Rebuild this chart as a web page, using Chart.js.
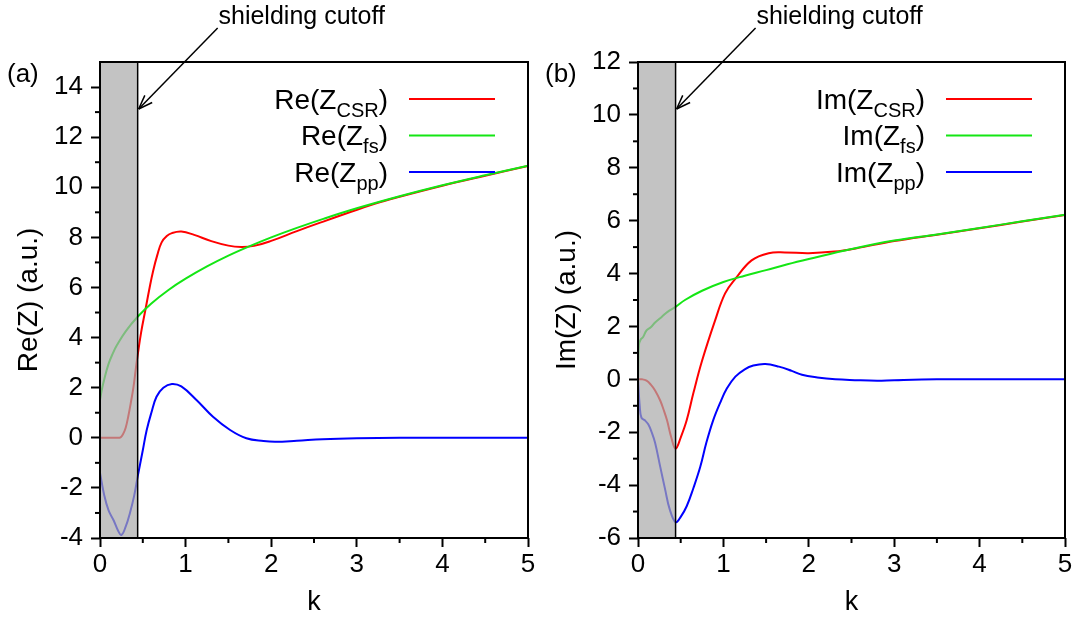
<!DOCTYPE html>
<html>
<head>
<script src="https://cdn.jsdelivr.net/npm/chart.js@4.4.0/dist/chart.umd.min.js"></script>
<title>Impedance panels</title>
<style>
  body { margin: 0; background: #fff; }
  .panel { position: absolute; top: 0; width: 538px; height: 619px; }
</style>
</head>
<body>
<div class="panel" style="left:0"><canvas id="chartA" width="538" height="619"></canvas></div>
<div class="panel" style="left:538px"><canvas id="chartB" width="538" height="619"></canvas></div>
<script>
// shielding cutoff (k)
const cutoffK = 0.44;

// panel (a): real parts
const kCsrA = [0, 0.1, 0.2, 0.24, 0.27, 0.3, 0.33, 0.36, 0.39, 0.42, 0.44, 0.48, 0.53, 0.58, 0.62, 0.67, 0.72, 0.78, 0.84, 0.95, 1.1, 1.3, 1.5, 1.65, 1.8, 2.0, 2.3, 2.6, 2.9, 3.2, 3.5, 4.0, 4.5, 5.0];
const reCsr = [0, 0, 0, 0.02, 0.15, 0.4, 0.85, 1.4, 2.0, 2.8, 3.3, 4.2, 5.1, 6.0, 6.65, 7.3, 7.8, 8.05, 8.17, 8.23, 8.1, 7.85, 7.67, 7.62, 7.66, 7.86, 8.25, 8.62, 8.98, 9.33, 9.62, 10.06, 10.46, 10.85];
const kFsA = [0, 0.02, 0.05, 0.1, 0.15, 0.2, 0.3, 0.44, 0.6, 0.8, 1.0, 1.25, 1.5, 1.75, 2.0, 2.3, 2.6, 3.0, 3.5, 4.0, 4.5, 5.0];
const reFs = [1.5, 1.9, 2.34, 2.95, 3.37, 3.71, 4.25, 4.83, 5.36, 5.9, 6.35, 6.84, 7.27, 7.65, 8.0, 8.38, 8.73, 9.16, 9.64, 10.08, 10.48, 10.86];
const kPpA = [0, 0.05, 0.1, 0.16, 0.21, 0.25, 0.3, 0.35, 0.4, 0.44, 0.5, 0.545, 0.6, 0.66, 0.74, 0.84, 0.95, 1.13, 1.32, 1.52, 1.71, 1.91, 2.05, 2.3, 2.6, 3.0, 3.5, 4.0, 5.0];
const rePp = [-1.4, -2.3, -2.9, -3.3, -3.7, -3.88, -3.55, -3.0, -2.3, -1.55, -0.5, 0.3, 1.0, 1.64, 2.0, 2.15, 2.05, 1.5, 0.84, 0.31, -0.02, -0.13, -0.16, -0.12, -0.06, -0.02, 0.0, 0.0, 0.0];

// panel (b): imaginary parts
const kCsrB = [0, 0.05, 0.1, 0.15, 0.2, 0.26, 0.3, 0.34, 0.39, 0.44, 0.5, 0.57, 0.65, 0.75, 0.9, 1.02, 1.14, 1.33, 1.53, 1.72, 2.0, 2.3, 2.55, 3.0, 3.5, 4.0, 4.5, 5.0];
const imCsr = [0, 0, -0.05, -0.2, -0.42, -0.8, -1.15, -1.55, -2.2, -2.62, -2.2, -1.55, -0.5, 0.7, 2.2, 3.25, 3.8, 4.5, 4.77, 4.8, 4.77, 4.83, 4.95, 5.23, 5.47, 5.71, 5.97, 6.21];
const kFsB = [0, 0.01, 0.03, 0.06, 0.1, 0.15, 0.2, 0.28, 0.35, 0.44, 0.55, 0.75, 1.0, 1.25, 1.5, 1.75, 2.0, 2.5, 3.0, 3.5, 4.0, 4.5, 5.0];
const imFs = [0, 1.3, 1.5, 1.6, 1.85, 1.97, 2.15, 2.37, 2.56, 2.74, 3.0, 3.35, 3.68, 3.92, 4.13, 4.35, 4.55, 4.93, 5.25, 5.48, 5.72, 5.98, 6.22];
const kPpB = [0, 0.02, 0.04, 0.08, 0.12, 0.16, 0.2, 0.26, 0.32, 0.37, 0.44, 0.5, 0.57, 0.65, 0.73, 0.8, 0.88, 0.96, 1.04, 1.14, 1.25, 1.35, 1.49, 1.65, 1.8, 1.92, 2.1, 2.31, 2.54, 2.8, 3.0, 3.5, 4.0, 5.0];
const imPp = [0, -1.0, -1.45, -1.55, -1.7, -2.0, -2.4, -3.3, -4.2, -4.9, -5.4, -5.2, -4.8, -4.1, -3.3, -2.4, -1.55, -0.9, -0.35, 0.1, 0.38, 0.52, 0.58, 0.48, 0.32, 0.17, 0.07, 0.0, -0.03, -0.05, -0.03, 0.0, 0.0, 0.0];

// ticks and labels
const xTicks = [0, 1, 2, 3, 4, 5];
const yTicksA = [-4, -2, 0, 2, 4, 6, 8, 10, 12, 14];
const yTicksB = [-6, -4, -2, 0, 2, 4, 6, 8, 10, 12];
const seriesSubs = ['CSR', 'fs', 'pp'];
const seriesColors = ['#ff0000', '#14e614', '#0000ff'];

const FONT = '"Liberation Sans", Arial, sans-serif';
Chart.defaults.font.family = FONT;
Chart.defaults.color = '#000';

function line(ctx, x1, y1, x2, y2) {
  ctx.beginPath(); ctx.moveTo(x1, y1); ctx.lineTo(x2, y2); ctx.stroke();
}

const decorPlugin = {
  id: 'decor',
  afterDatasetsDraw(chart) {
    const {ctx, chartArea: a, scales: {x}} = chart;
    const xc = x.getPixelForValue(cutoffK);
    ctx.save();
    ctx.fillStyle = 'rgba(170,170,170,0.7)';
    ctx.fillRect(a.left, a.top, xc - a.left, a.bottom - a.top);
    ctx.strokeStyle = '#000';
    ctx.lineWidth = 1.5;
    line(ctx, xc, a.top, xc, a.bottom);
    ctx.restore();
  },
  afterDraw(chart, args, opts) {
    const {ctx, chartArea: a, scales: {x, y}} = chart;
    const xc = x.getPixelForValue(cutoffK);
    ctx.save();
    ctx.strokeStyle = '#000';
    ctx.fillStyle = '#000';
    ctx.lineWidth = 2;
    ctx.strokeRect(a.left, a.top, a.right - a.left, a.bottom - a.top);

    // minor ticks
    for (let v = Math.ceil(y.min); v < y.max; v++) {
      if (v % 2 !== 0) { const py = y.getPixelForValue(v); line(ctx, a.left - 5, py, a.left, py); }
    }
    for (let v = 0.5; v < x.max; v += 1) {
      const px = x.getPixelForValue(v); line(ctx, px, a.bottom, px, a.bottom + 5);
    }

    // panel tag
    ctx.font = '26px ' + FONT;
    ctx.textAlign = 'left';
    ctx.textBaseline = 'middle';
    ctx.fillText(opts.tag, 7, 75);

    // cutoff annotation
    ctx.font = '25px ' + FONT;
    ctx.textAlign = 'center';
    ctx.fillText('shielding cutoff', xc + 164, 17);
    const x0 = xc + 80, y0 = 28, x1 = xc + 1, y1 = a.top + 47;
    ctx.lineWidth = 1.5;
    line(ctx, x0, y0, x1, y1);
    const ang = Math.atan2(y0 - y1, x0 - x1);
    [-0.35, 0.35].forEach(d => line(ctx, x1, y1, x1 + 15 * Math.cos(ang + d), y1 + 15 * Math.sin(ang + d)));

    // legend
    ctx.textAlign = 'left';
    ctx.textBaseline = 'alphabetic';
    const xr = a.right - 140;
    seriesSubs.forEach((sub, i) => {
      const ly = a.top + 37 + i * 36.5;
      const base = ly + 9.5;
      ctx.font = '28px ' + FONT;
      const wP = ctx.measureText(')').width;
      ctx.fillText(')', xr - wP, base);
      ctx.font = '20px ' + FONT;
      const wS = ctx.measureText(sub).width;
      ctx.fillText(sub, xr - wP - wS, base + 8);
      ctx.font = '28px ' + FONT;
      const head = opts.prefix + '(Z';
      const wH = ctx.measureText(head).width;
      ctx.fillText(head, xr - wP - wS - wH, base);
      ctx.strokeStyle = seriesColors[i];
      ctx.lineWidth = 2;
      line(ctx, a.right - 119, ly, a.right - 33, ly);
    });
    ctx.restore();
  }
};

function makePanel(id, cfg) {
  const pts = (ks, vs) => ks.map((k, i) => ({x: k, y: vs[i]}));
  const gridOpts = {drawOnChartArea: false, tickLength: 9, tickWidth: 2, tickColor: '#000', color: '#000'};
  return new Chart(document.getElementById(id), {
    type: 'line',
    data: {
      datasets: cfg.series.map((s, i) => ({
        data: pts(s[0], s[1]),
        borderColor: seriesColors[i],
        borderWidth: 2,
        pointRadius: 0,
        fill: false,
        tension: 0.4,
        order: 3 - i
      }))
    },
    options: {
      responsive: false,
      animation: false,
      layout: {padding: {top: 62, right: cfg.padRight, left: 0, bottom: 0}},
      plugins: {
        legend: {display: false},
        tooltip: {enabled: false},
        decor: {tag: cfg.tag, prefix: cfg.prefix}
      },
      scales: {
        x: {
          type: 'linear', min: 0, max: 5,
          afterFit: s => { s.height = 81; },
          afterBuildTicks: s => { s.ticks = xTicks.map(v => ({value: v})); },
          grid: gridOpts,
          border: {display: false},
          ticks: {font: {size: 26}, padding: 2, maxRotation: 0, color: '#000'},
          title: {display: true, text: 'k', font: {size: 27}, color: '#000', padding: {top: 0, bottom: 0}}
        },
        y: {
          type: 'linear', min: cfg.yMin, max: cfg.yMax,
          afterFit: s => { s.width = 100; },
          afterBuildTicks: s => { s.ticks = cfg.yTicks.map(v => ({value: v})); },
          grid: gridOpts,
          border: {display: false},
          ticks: {font: {size: 26}, padding: 8, color: '#000'},
          title: {display: true, text: cfg.yTitle, font: {size: 28}, color: '#000', padding: {top: 12, bottom: 0}}
        }
      }
    },
    plugins: [decorPlugin]
  });
}

makePanel('chartA', {
  series: [[kCsrA, reCsr], [kFsA, reFs], [kPpA, rePp]],
  yMin: -4, yMax: 15, yTicks: yTicksA, yTitle: 'Re(Z) (a.u.)',
  tag: '(a)', prefix: 'Re', padRight: 10
});
makePanel('chartB', {
  series: [[kCsrB, imCsr], [kFsB, imFs], [kPpB, imPp]],
  yMin: -6, yMax: 12, yTicks: yTicksB, yTitle: 'Im(Z) (a.u.)',
  tag: '(b)', prefix: 'Im', padRight: 11
});
</script>
</body>
</html>
